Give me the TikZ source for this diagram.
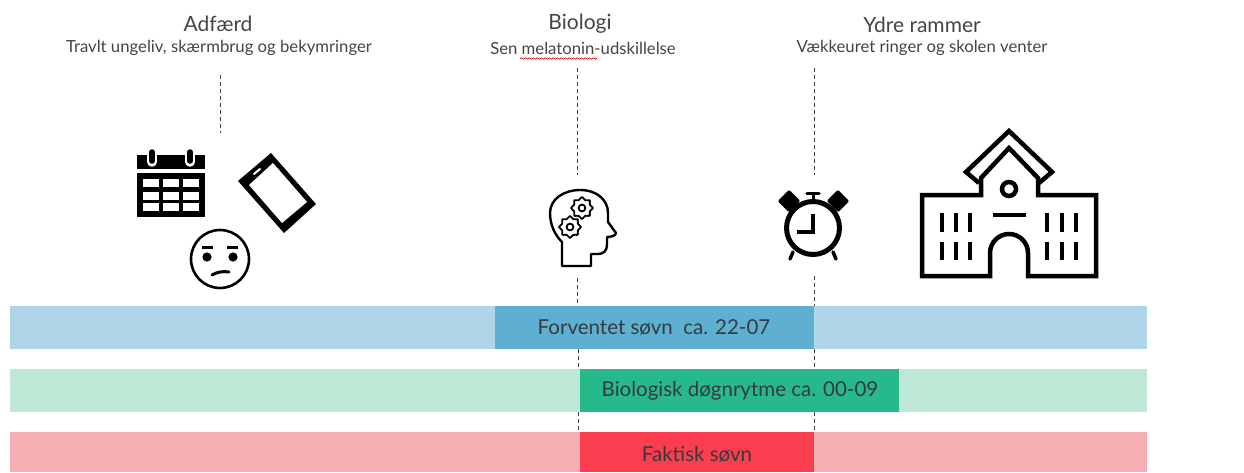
\documentclass[tikz,border=0pt]{standalone}
\usepackage{fontspec}
\setmainfont{Lato}
\usetikzlibrary{decorations.pathmorphing,calc}
\definecolor{lblue}{HTML}{AFD6E8}\definecolor{dblue}{HTML}{5FAFD0}
\definecolor{lgreen}{HTML}{BEE7D6}\definecolor{dgreen}{HTML}{27B98C}
\definecolor{lred}{HTML}{F7AFB6}\definecolor{dred}{HTML}{FB3D50}
\definecolor{txt}{HTML}{333B40}\definecolor{subt}{HTML}{454545}
\tikzset{
  bar/.style={rectangle,inner sep=0pt,outer sep=0pt,anchor=north west,minimum width=#1},
  title/.style={font=\fontsize{21}{23}\selectfont,text=subt,inner sep=0pt},
  subtitle/.style={font=\fontsize{16.7}{18}\selectfont,text=subt,inner sep=0pt},
  bartext/.style={font=\fontsize{20.5}{23}\selectfont,text=txt,inner sep=0pt},
  guide/.style={draw=black!75,dash pattern=on 4pt off 3pt,line width=1pt}
}
\newcommand{\gearicon}[2]{%
  \draw[line width=1.8pt,line join=round] plot[smooth cycle,tension=.15] coordinates {
    ($(#1,#2)+(0:11)$) ($(#1,#2)+(22.5:8.5)$) ($(#1,#2)+(45:11)$) ($(#1,#2)+(67.5:8.5)$)
    ($(#1,#2)+(90:11)$) ($(#1,#2)+(112.5:8.5)$) ($(#1,#2)+(135:11)$) ($(#1,#2)+(157.5:8.5)$)
    ($(#1,#2)+(180:11)$) ($(#1,#2)+(202.5:8.5)$) ($(#1,#2)+(225:11)$) ($(#1,#2)+(247.5:8.5)$)
    ($(#1,#2)+(270:11)$) ($(#1,#2)+(292.5:8.5)$) ($(#1,#2)+(315:11)$) ($(#1,#2)+(337.5:8.5)$)};
  \draw[line width=1.8pt] (#1,#2) circle[radius=3.4];}
\begin{document}
\begin{tikzpicture}[x=1pt,y=-1pt]
\useasboundingbox (0,0) rectangle (1244,472);
\fill[white] (0,0) rectangle (1244,472);
% bars
\node[bar=1137pt,minimum height=43pt,fill=lblue] (b1) at (10,306) {};
\node[bar=1137pt,minimum height=43pt,fill=lgreen] (b2) at (10,369) {};
\node[bar=1137pt,minimum height=40pt,fill=lred] (b3) at (10,432) {};
\node[bar=319pt,minimum height=43pt,fill=dblue] (s1) at (495,306) {};
\node[bar=319pt,minimum height=43pt,fill=dgreen] (s2) at (580,369) {};
\node[bar=234pt,minimum height=40pt,fill=dred] (s3) at (580,432) {};
\node[bartext] (t1) at (654,327.5) {Forventet søvn\ \ ca. 22-07};
\node[bartext] (t2) at (740,390.5) {Biologisk døgnrytme ca. 00-09};
\node[bartext] (t3) at (697,454) {Faktisk søvn};
% headers
\node[title] (h1) at (218,24) {Adfærd};
\node[title] (h2) at (580,24) {Biologi};
\node[title] (h3) at (922,25) {Ydre rammer};
\node[subtitle] (d1) at (219,48) {Travlt ungeliv, skærmbrug og bekymringer};
\node[subtitle] (d2) at (583,48) {Sen melatonin-udskillelse};
\node[subtitle] (d3) at (922,48) {Vækkeuret ringer og skolen venter};
\draw[red!75!black,line width=.6pt,decorate,decoration={snake,amplitude=.7pt,segment length=4pt}] (520,58.5) -- (597,58.5);
% guides
\coordinate (g1a) at (220,75); \coordinate (g1b) at (220,133);
\coordinate (g2a) at (577,68); \coordinate (g2b) at (577,175);
\coordinate (g2c) at (577,278); \coordinate (g2d) at (577,306);
\coordinate (g2e) at (578,349); \coordinate (g2f) at (578,369);
\coordinate (g2g) at (578,412); \coordinate (g2h) at (578,432);
\coordinate (g3a) at (814,68); \coordinate (g3b) at (814,175);
\coordinate (g3c) at (814,276); \coordinate (g3d) at (814,306);
\coordinate (g3e) at (814,349); \coordinate (g3f) at (814,369);
\coordinate (g3g) at (814,412); \coordinate (g3h) at (814,432);
\draw[guide] (g1a)--(g1b);
\draw[guide] (g2a)--(g2b); \draw[guide] (g2c)--(g2d); \draw[guide] (g2e)--(g2f); \draw[guide] (g2g)--(g2h);
\draw[guide] (g3a)--(g3b); \draw[guide] (g3c)--(g3d); \draw[guide] (g3e)--(g3f); \draw[guide] (g3g)--(g3h);
% calendar
\fill (137,155) rectangle (205,169);
\fill (137,173) rectangle (205,217);
\foreach \x in {143,163,183}\foreach \y in {179,192,203}{\fill[white] (\x,\y) rectangle (\x+16,\y+8);}
\foreach \x in {152,190}{
  \draw[white,line width=9.5pt,line cap=round] (\x,152)--(\x,162);
  \draw[black,line width=5.5pt,line cap=round] (\x,152)--(\x,161);}
% phone
\fill (271,153)--(316,204)--(284,233)--(238,181)--cycle;
\fill[white] (273,163)--(307,202)--(282,223)--(249,185)--cycle;
\draw[white,line width=2pt,line cap=round] (254,174)--(260,169);
% face
\draw[line width=2.6pt] (220,259) circle[radius=29];
\fill (207,257) circle[radius=4.6]; \fill (233,257) circle[radius=4.6];
\draw[line width=3pt] (202,247)--(213,247); \draw[line width=3pt] (227,247)--(238,247);
\draw[line width=3pt,line cap=round] (212,275) .. controls (217,272) and (223,271) .. (229,272);
% head
\draw[line width=2.4pt,line join=round] (562,266)--(562,242)
 .. controls (555,235) and (550,225) .. (550,213)
 .. controls (550,199) and (564,190) .. (580,190)
 .. controls (597,190) and (608,200) .. (608,213)
 -- (608,222)--(616,233) .. controls (616,236) and (610,237) .. (607,237)
 -- (607,245) .. controls (607,251) and (603,254) .. (598,254)
 -- (591,254)--(591,266)--cycle;
\gearicon{582}{208}
\gearicon{570}{227}
% clock
\draw[line width=5pt] (813,228) circle[radius=26.5];
\draw[line width=3.5pt] (813,214)--(813,232)--(797,232);
\draw[line width=3.5pt,line cap=round] (807,193.5)--(819,193.5);
\draw[line width=3pt] (813,193.5)--(813,202);
\fill[rotate around={45:(789,201)},rounded corners=1pt] (781,193.2) rectangle (797,208.8);
\fill[rotate around={-45:(838,201)},rounded corners=1pt] (830,193.2) rectangle (846,208.8);
\draw[line width=3.5pt,line cap=round] (793,252)--(790,259);
\draw[line width=3.5pt,line cap=round] (833,252)--(836,259);
% school
\draw[line width=4.5pt] (990,276)--(922,276)--(922,195)--(981,195)--(981,178)--(1009,148)--(1038,178)--(1038,195)--(1096,195)--(1096,276)--(1028,276)--(1028,253)
 arc[start angle=0,end angle=-180,radius=19] --cycle;
\draw[line width=4.5pt] (979,183)--(966,172)--(1009,131)--(1052,172)--(1039,183);
\draw[line width=4.5pt] (1009,189) circle[radius=7];
\draw[line width=4.5pt] (993,215)--(1026,215);
\foreach \x in {942,956,970,1047,1062,1076}{
  \draw[line width=4.5pt] (\x,213)--(\x,232);
  \draw[line width=4.5pt] (\x,242)--(\x,260);}
\end{tikzpicture}
\end{document}
